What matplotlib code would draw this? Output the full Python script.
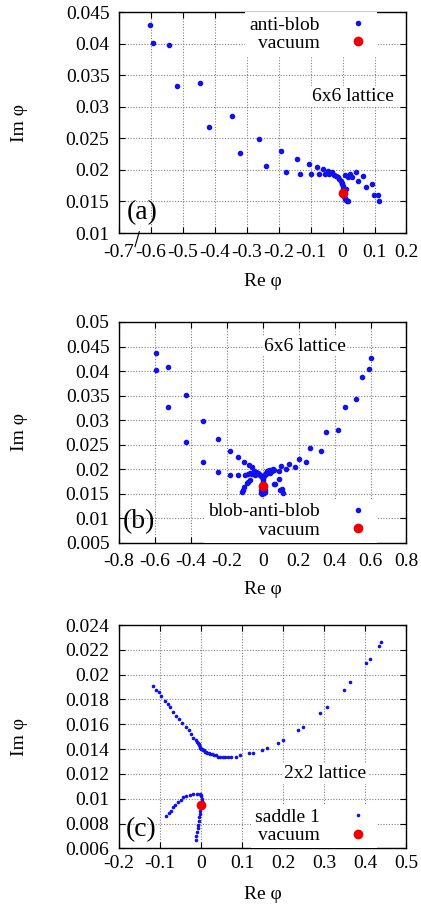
import matplotlib
matplotlib.use("Agg")
import matplotlib.pyplot as plt
from matplotlib.lines import Line2D
from matplotlib.ticker import MultipleLocator, FuncFormatter

plt.rcParams["font.family"] = ["Liberation Serif", "DejaVu Serif"]
plt.rcParams["font.size"] = 14
plt.rcParams["axes.unicode_minus"] = False

BLUE = "#1010f0"
RED = "#f00000"

# (a) anti-blob, 6x6 lattice
re_a = [-0.603, -0.593, -0.545, -0.519, -0.447, -0.419, -0.346, -0.320, -0.261, -0.240,
        -0.193, -0.177, -0.144, -0.132, -0.106, -0.099, -0.080, -0.075, -0.061, -0.056,
        -0.045, -0.042, -0.034, -0.028, -0.021, -0.015, -0.010, -0.006, -0.003, -0.001,
        0.000, 0.000, 0.001, 0.002, 0.004, 0.006, 0.009, 0.012, 0.014, 0.016,
        0.006, 0.016, 0.023, 0.029, 0.043, 0.048, 0.065, 0.073, 0.092, 0.099,
        0.110, 0.114, 0.010]
im_a = [0.0429, 0.0401, 0.0397, 0.0333, 0.0338, 0.0268, 0.0285, 0.0226, 0.0249, 0.0206,
        0.0230, 0.0197, 0.0217, 0.0194, 0.0209, 0.0194, 0.0205, 0.0193, 0.0202, 0.0193,
        0.0199, 0.0193, 0.0196, 0.0192, 0.0191, 0.0189, 0.0186, 0.0183, 0.0180, 0.0177,
        0.0174, 0.0170, 0.0167, 0.0161, 0.0158, 0.0156, 0.0154, 0.0152, 0.0151, 0.0150,
        0.0192, 0.0188, 0.0194, 0.0188, 0.0196, 0.0183, 0.0191, 0.0173, 0.0177, 0.0161,
        0.0160, 0.0151, 0.0170]
vac_a = (0.0, 0.0164)

# (b) blob-anti-blob, 6x6 lattice
re_b = [-0.595, -0.595, -0.528, -0.530, -0.430, -0.430, -0.331, -0.331, -0.247, -0.247,
        -0.185, -0.185, -0.137, -0.137, -0.102, -0.100, -0.078, -0.059,
        0.601, 0.592, 0.551, 0.521, 0.456, 0.419, 0.353, 0.322, 0.264, 0.242,
        0.200, 0.178, 0.144, 0.130, 0.104, 0.089,
        -0.080, -0.070, -0.060, -0.050, -0.045, -0.040, -0.035, -0.030, -0.025, -0.020,
        -0.015, -0.010, -0.005, 0.005, 0.010, 0.015, 0.020, 0.025, 0.030, 0.035,
        0.040, 0.045, 0.050, 0.055, 0.060, 0.000, 0.000, 0.000, 0.000,
        -0.012, -0.005, 0.000, 0.006, 0.012, -0.010, 0.010,
        -0.115, -0.110, -0.104, -0.090, -0.080, -0.070,
        0.060, 0.090, 0.098, 0.106, 0.113, 0.070]
im_b = [0.0436, 0.0402, 0.0408, 0.0326, 0.0351, 0.0256, 0.0299, 0.0214, 0.0262, 0.0195,
        0.0238, 0.0188, 0.0225, 0.0188, 0.0215, 0.0188, 0.0209, 0.0204,
        0.0427, 0.0405, 0.0388, 0.0343, 0.0327, 0.0280, 0.0276, 0.0238, 0.0243, 0.0215,
        0.0221, 0.0205, 0.0211, 0.0200, 0.0206, 0.0197,
        0.0190, 0.0193, 0.0191, 0.0196, 0.0189, 0.0194, 0.0192, 0.0190, 0.0193, 0.0191,
        0.0189, 0.0187, 0.0185, 0.0187, 0.0190, 0.0193, 0.0191, 0.0196, 0.0194, 0.0198,
        0.0193, 0.0199, 0.0196, 0.0201, 0.0199, 0.0182, 0.0178, 0.0174, 0.0170,
        0.0152, 0.0150, 0.0153, 0.0151, 0.0153, 0.0158, 0.0157,
        0.0154, 0.0158, 0.0164, 0.0173, 0.0175, 0.0178,
        0.0171, 0.0180, 0.0158, 0.0160, 0.0152, 0.0171]
vac_b = (0.0, 0.0165)

# (c) saddle 1, 2x2 lattice
re_c_upper = [-0.118, -0.111, -0.104, -0.098, -0.088, -0.081, -0.075, -0.068, -0.062, -0.054,
              -0.046, -0.037, -0.031, -0.024, -0.019, -0.013, -0.010, -0.008, -0.006, -0.005,
              -0.003, -0.002, 0.000, 0.002, 0.004, 0.006, 0.008, 0.011, 0.014, 0.018,
              0.022, 0.026, 0.031, 0.036, 0.041, 0.046, 0.052, 0.059, 0.066, 0.073,
              0.084, 0.095, 0.116, 0.126, 0.148, 0.159, 0.187, 0.200, 0.235, 0.249,
              0.290, 0.307, 0.348, 0.363, 0.401, 0.412, 0.432, 0.437]
im_c_upper = [0.0191, 0.0188, 0.0186, 0.0183, 0.0179, 0.0176, 0.0174, 0.0170, 0.0167, 0.0164,
              0.0161, 0.0158, 0.0155, 0.0152, 0.0149, 0.0147, 0.0146, 0.0145, 0.0144, 0.0143,
              0.0142, 0.0141, 0.0140, 0.0140, 0.0139, 0.0139, 0.0138, 0.0138, 0.0137, 0.0137,
              0.0136, 0.0136, 0.0135, 0.0135, 0.0134, 0.0134, 0.0134, 0.0134, 0.0134, 0.0134,
              0.0134, 0.0135, 0.0137, 0.0137, 0.0139, 0.0141, 0.0145, 0.0147, 0.0155, 0.0158,
              0.0169, 0.0174, 0.0188, 0.0194, 0.0209, 0.0213, 0.0223, 0.0226]
re_c_lower = [-0.085, -0.079, -0.074, -0.068, -0.063, -0.056, -0.050, -0.044, -0.036, -0.027,
              -0.019, -0.011, -0.004, -0.001, 0.000, 0.0015, 0.001, -0.001, -0.0025, -0.004,
              -0.005, -0.0066, -0.0074, -0.009, -0.010, -0.0116, -0.012]
im_c_lower = [0.00863, 0.00885, 0.00904, 0.0093, 0.00953, 0.0097, 0.00992, 0.0101, 0.0102, 0.0103,
              0.0104, 0.0104, 0.0104, 0.0103, 0.0102, 0.0100, 0.0098, 0.0093, 0.0090, 0.0088,
              0.0085, 0.0082, 0.0079, 0.0076, 0.0073, 0.0070, 0.0067]
vac_c = (0.0, 0.0095)


def fmt(v, pos):
    v = round(v, 8)
    if v == 0:
        return "0"
    return "%g" % v


def setup(ax, xlim, xstep, ylim, ystep, xpad, xlab_y):
    ax.set_xlim(*xlim)
    ax.set_ylim(*ylim)
    ax.xaxis.set_major_locator(MultipleLocator(xstep))
    ax.yaxis.set_major_locator(MultipleLocator(ystep))
    ax.xaxis.set_major_formatter(FuncFormatter(fmt))
    ax.yaxis.set_major_formatter(FuncFormatter(fmt))
    ax.tick_params(direction="in", top=True, right=True, length=4, width=0.8)
    ax.tick_params(axis="x", pad=xpad)
    ax.tick_params(axis="y", pad=7)
    ax.grid(True, color="#808080", linestyle=(0, (1, 1.5)), linewidth=0.8)
    ax.set_axisbelow(True)
    for s in ax.spines.values():
        s.set_linewidth(1.0)
    ax.set_xlabel("Re φ")
    ax.set_ylabel("Im φ")
    ax.xaxis.set_label_coords(0.5, xlab_y)
    ax.yaxis.set_label_coords(-0.318, 0.5)


def add_legend(ax, loc, anchor):
    ax.legend(loc=loc, bbox_to_anchor=anchor, markerfirst=False, frameon=True,
              edgecolor="none", facecolor="white", framealpha=1, fancybox=False,
              labelspacing=0.05, handlelength=1.5, handletextpad=1.25,
              borderpad=0.2, borderaxespad=0)


fig = plt.figure(figsize=(4.21, 9.11), dpi=100)

# panel (a)
ax = fig.add_axes([0.283, 0.7442, 0.6825, 0.2426])
ax.plot(re_a, im_a, "o", ms=3, color=BLUE, label="anti-blob")
ax.plot([vac_a[0]], [vac_a[1]], "o", ms=6, color=RED, label="vacuum")
setup(ax, (-0.7, 0.2), 0.1, (0.01, 0.045), 0.005, 8, -0.18)
add_legend(ax, "upper right", (0.897, 1.0))
ax.text(0.815, 0.62, "6x6 lattice", transform=ax.transAxes, ha="center", va="center",
        bbox=dict(facecolor="white", edgecolor="none", pad=1))
ax.text(0.08, 0.092, "(a)", transform=ax.transAxes, ha="center", va="center", fontsize=20)

# panel (b)
ax = fig.add_axes([0.283, 0.4040, 0.6825, 0.2426])
ax.plot(re_b, im_b, "o", ms=3, color=BLUE, label="blob-anti-blob")
ax.plot([vac_b[0]], [vac_b[1]], "o", ms=6, color=RED, label="vacuum")
setup(ax, (-0.8, 0.8), 0.2, (0.005, 0.05), 0.005, 7, -0.17)
add_legend(ax, "lower right", (0.897, 0.0))
ax.text(0.647, 0.89, "6x6 lattice", transform=ax.transAxes, ha="center", va="center",
        bbox=dict(facecolor="white", edgecolor="none", pad=1))
ax.text(0.07, 0.096, "(b)", transform=ax.transAxes, ha="center", va="center", fontsize=20)

# panel (c)
ax = fig.add_axes([0.283, 0.0688, 0.6825, 0.2451])
ax.plot(re_c_upper + re_c_lower, im_c_upper + im_c_lower, "o", ms=1.6, color=BLUE,
        label="saddle 1")
ax.plot([vac_c[0]], [vac_c[1]], "o", ms=6, color=RED, label="vacuum")
setup(ax, (-0.2, 0.5), 0.1, (0.006, 0.024), 0.002, 5, -0.17)
add_legend(ax, "lower right", (0.897, 0.0))
ax.text(0.717, 0.333, "2x2 lattice", transform=ax.transAxes, ha="center", va="center",
        bbox=dict(facecolor="white", edgecolor="none", pad=1))
ax.text(0.077, 0.086, "(c)", transform=ax.transAxes, ha="center", va="center", fontsize=20)

# small stray stroke under panel (a)
fig.add_artist(Line2D([139.3 / 421, 135.0 / 421], [1 - 231.7 / 911, 1 - 246.7 / 911],
                      transform=fig.transFigure, color="black", linewidth=0.8))

fig.savefig("out.png", dpi=100)
